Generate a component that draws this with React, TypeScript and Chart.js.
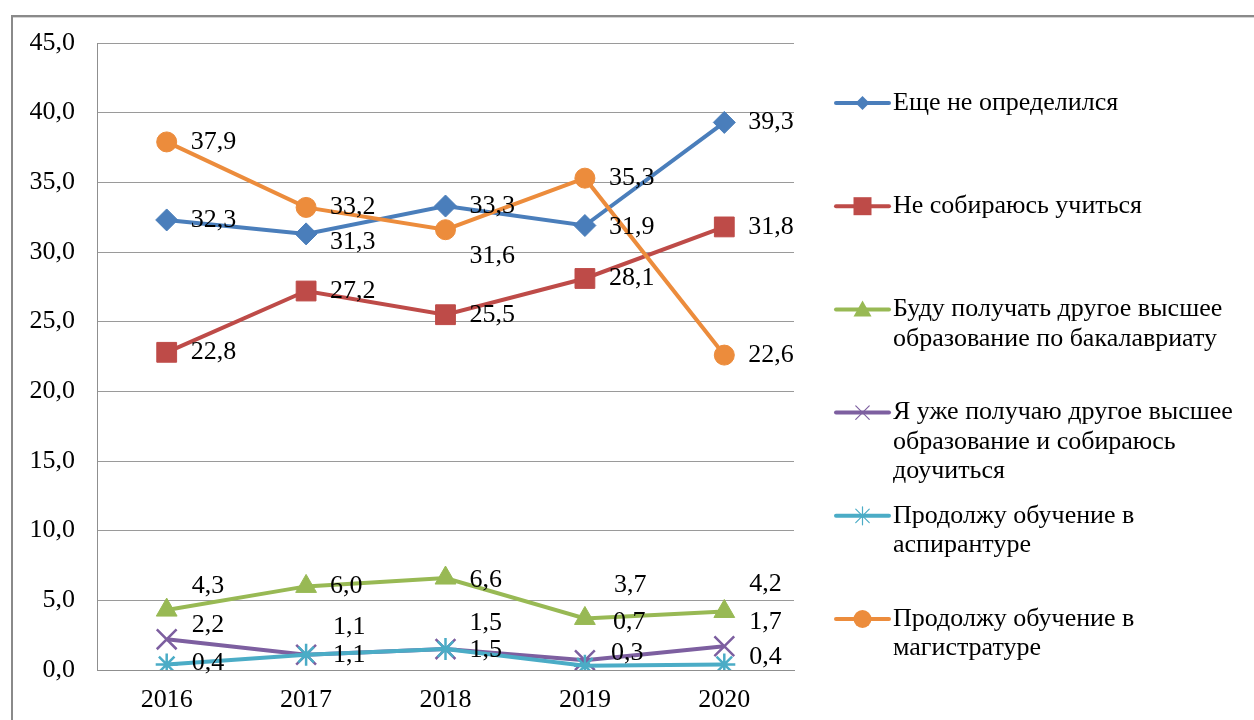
import React, { useEffect, useRef } from 'react';
import { Chart, registerables } from 'chart.js';

Chart.register(...registerables);

// ---------- data ----------
const years = ['2016', '2017', '2018', '2019', '2020'];
const seriesNames = [
  'Еще не определился',
  'Не собираюсь учиться',
  'Буду получать другое высшее\nобразование по бакалавриату',
  'Я уже получаю другое высшее\nобразование и собираюсь\nдоучиться',
  'Продолжу обучение в\nаспирантуре',
  'Продолжу обучение в\nмагистратуре',
];
const undecided = [32.3, 31.3, 33.3, 31.9, 39.3];
const notStudying = [22.8, 27.2, 25.5, 28.1, 31.8];
const secondBachelor = [4.3, 6.0, 6.6, 3.7, 4.2];
const alreadySecond = [2.2, 1.1, 1.5, 0.7, 1.7];
const postgraduate = [0.4, 1.1, 1.5, 0.3, 0.4];
const masters = [37.9, 33.2, 31.6, 35.3, 22.6];
const yMin = 0;
const yMax = 45;
const yStep = 5;

// ---------- styles ----------
const FONT_FAMILY = '"Liberation Serif", "Times New Roman", serif';
const FONT_SIZE = 26;
const colors = ['#4A7EBB', '#BE4B48', '#98B954', '#7D5FA0', '#4BACC6', '#EC8C3C'];
const pointStyles = ['rectRot', 'rect', 'triangle', 'crossRot', 'star', 'circle'];
const pointRadii = [11, 14, 12, 14, 11, 10];
const pointBorderWidths = [1, 1, 1, 2.5, 2.5, 1];
const legendMarkerSizes = [7, 9, 9, 9, 9, 9];
// label offsets in px relative to the point (text left edge, vertical middle)
const labelOffsets = [
  [[24, 0], [24, 8], [24, 0], [24, 2], [24, 0]],
  [[24, 0], [24, 0], [24, 0], [24, 0], [24, 0]],
  [[25, -24], [24, 0], [24, 2], [29, -33], [25, -27]],
  [[25, -14], [27, -28], [24, -26], [28, -38], [25, -24]],
  [[25, -1], [27, 0], [24, 1], [26, -13], [25, -7]],
  [[24, 0], [24, 0], [24, 26], [24, 0], [24, 0]],
];

const seriesValues = [undecided, notStudying, secondBachelor, alreadySecond, postgraduate, masters];

const fmt = (v: number) => v.toFixed(1).replace('.', ',');

function drawMarker(
  ctx: CanvasRenderingContext2D,
  style: string,
  x: number,
  y: number,
  r: number,
  color: string,
  lw: number
) {
  ctx.save();
  ctx.fillStyle = color;
  ctx.strokeStyle = color;
  ctx.lineWidth = lw;
  ctx.beginPath();
  switch (style) {
    case 'rectRot':
      ctx.moveTo(x, y - r);
      ctx.lineTo(x + r, y);
      ctx.lineTo(x, y + r);
      ctx.lineTo(x - r, y);
      ctx.closePath();
      ctx.fill();
      break;
    case 'rect':
      ctx.rect(x - r, y - r, 2 * r, 2 * r);
      ctx.fill();
      break;
    case 'triangle':
      ctx.moveTo(x, y - r);
      ctx.lineTo(x + r, y + r * 0.8);
      ctx.lineTo(x - r, y + r * 0.8);
      ctx.closePath();
      ctx.fill();
      break;
    case 'crossRot':
      ctx.moveTo(x - r * 0.75, y - r * 0.75);
      ctx.lineTo(x + r * 0.75, y + r * 0.75);
      ctx.moveTo(x + r * 0.75, y - r * 0.75);
      ctx.lineTo(x - r * 0.75, y + r * 0.75);
      ctx.stroke();
      break;
    case 'star':
      ctx.moveTo(x, y - r);
      ctx.lineTo(x, y + r);
      ctx.moveTo(x - r * 0.75, y - r * 0.75);
      ctx.lineTo(x + r * 0.75, y + r * 0.75);
      ctx.moveTo(x + r * 0.75, y - r * 0.75);
      ctx.lineTo(x - r * 0.75, y + r * 0.75);
      ctx.stroke();
      break;
    case 'circle':
    default:
      ctx.arc(x, y, r, 0, Math.PI * 2);
      ctx.fill();
      break;
  }
  ctx.restore();
}

const framePlugin = {
  id: 'frame',
  beforeDraw(chart: any) {
    const ctx = chart.ctx as CanvasRenderingContext2D;
    ctx.save();
    ctx.fillStyle = '#ffffff';
    ctx.fillRect(0, 0, chart.width, chart.height);
    ctx.fillStyle = '#8a8a8a';
    ctx.fillRect(11, 15, 2, chart.height);
    ctx.fillRect(11, 15, chart.width, 2);
    ctx.fillStyle = '#d4d4d4';
    ctx.fillRect(13, 17, chart.width, 1);
    ctx.restore();
  },
};

const dataLabelPlugin = {
  id: 'dataLabels',
  afterDatasetsDraw(chart: any) {
    const ctx = chart.ctx as CanvasRenderingContext2D;
    ctx.save();
    ctx.font = `${FONT_SIZE}px ${FONT_FAMILY}`;
    ctx.fillStyle = '#000';
    ctx.textAlign = 'left';
    ctx.textBaseline = 'middle';
    chart.data.datasets.forEach((ds: any, di: number) => {
      const meta = chart.getDatasetMeta(di);
      meta.data.forEach((pt: any, i: number) => {
        const off = labelOffsets[di][i];
        ctx.fillText(fmt(ds.data[i]), pt.x + off[0], pt.y + off[1]);
      });
    });
    ctx.restore();
  },
};

const LEGEND_LINE_X0 = 836;
const LEGEND_LINE_X1 = 889;
const LEGEND_TEXT_X = 893;
const LEGEND_TOP = 103;
const LEGEND_STEP = 103.2;
const LEGEND_LINE_H = 29.5;

const legendPlugin = {
  id: 'customLegend',
  afterDraw(chart: any) {
    const ctx = chart.ctx as CanvasRenderingContext2D;
    ctx.save();
    ctx.font = `${FONT_SIZE}px ${FONT_FAMILY}`;
    ctx.textAlign = 'left';
    ctx.textBaseline = 'middle';
    seriesNames.forEach((name, i) => {
      const y = LEGEND_TOP + i * LEGEND_STEP;
      ctx.strokeStyle = colors[i];
      ctx.lineWidth = 4;
      ctx.lineCap = 'round';
      ctx.beginPath();
      ctx.moveTo(LEGEND_LINE_X0, y);
      ctx.lineTo(LEGEND_LINE_X1, y);
      ctx.stroke();
      drawMarker(ctx, pointStyles[i], (LEGEND_LINE_X0 + LEGEND_LINE_X1) / 2, y, legendMarkerSizes[i], colors[i], 1.2);
      ctx.fillStyle = '#000';
      name.split('\n').forEach((line, li) => {
        ctx.fillText(line, LEGEND_TEXT_X, y + li * LEGEND_LINE_H);
      });
    });
    ctx.restore();
  },
};

export default function App() {
  const canvasRef = useRef<HTMLCanvasElement | null>(null);

  useEffect(() => {
    document.body.style.margin = '0';
    const canvas = canvasRef.current;
    if (!canvas) return;
    const font = { family: FONT_FAMILY, size: FONT_SIZE };
    const chart = new Chart(canvas, {
      type: 'line',
      data: {
        labels: years,
        datasets: seriesValues.map((vals, i) => ({
          label: seriesNames[i].replace(/\n/g, ' '),
          data: vals,
          borderColor: colors[i],
          backgroundColor: colors[i],
          borderWidth: 4,
          pointStyle: pointStyles[i] as any,
          pointRadius: pointRadii[i],
          pointBorderWidth: pointBorderWidths[i],
          pointBackgroundColor: colors[i],
          pointBorderColor: colors[i],
          tension: 0,
          fill: false,
          order: seriesValues.length - i,
        })),
      },
      options: {
        responsive: false,
        maintainAspectRatio: false,
        animation: false,
        devicePixelRatio: 1,
        layout: { padding: { left: 0, top: 43, right: 460, bottom: 0 } },
        plugins: {
          legend: { display: false },
          tooltip: { enabled: false },
        },
        scales: {
          x: {
            type: 'category',
            offset: true,
            grid: { display: false, drawTicks: false },
            border: { display: true, color: '#8f8f8f', width: 1 },
            ticks: { color: '#000', font, padding: 15, maxRotation: 0, autoSkip: false },
            afterFit: (s: any) => {
              s.height = 50;
            },
          },
          y: {
            min: yMin,
            max: yMax,
            ticks: {
              stepSize: yStep,
              color: '#000',
              font,
              padding: 22,
              callback: (v: any) => fmt(Number(v)),
            },
            grid: { color: '#9a9a9a', lineWidth: 1, drawTicks: false },
            border: { display: true, color: '#8f8f8f', width: 1 },
            afterFit: (s: any) => {
              s.width = 97;
            },
          },
        },
      },
      plugins: [framePlugin, dataLabelPlugin, legendPlugin],
    });
    return () => chart.destroy();
  }, []);

  return (
    <div style={{ width: 1254, height: 720, overflow: 'hidden', background: '#fff' }}>
      <canvas ref={canvasRef} width={1254} height={720} style={{ display: 'block', width: 1254, height: 720 }} />
    </div>
  );
}
